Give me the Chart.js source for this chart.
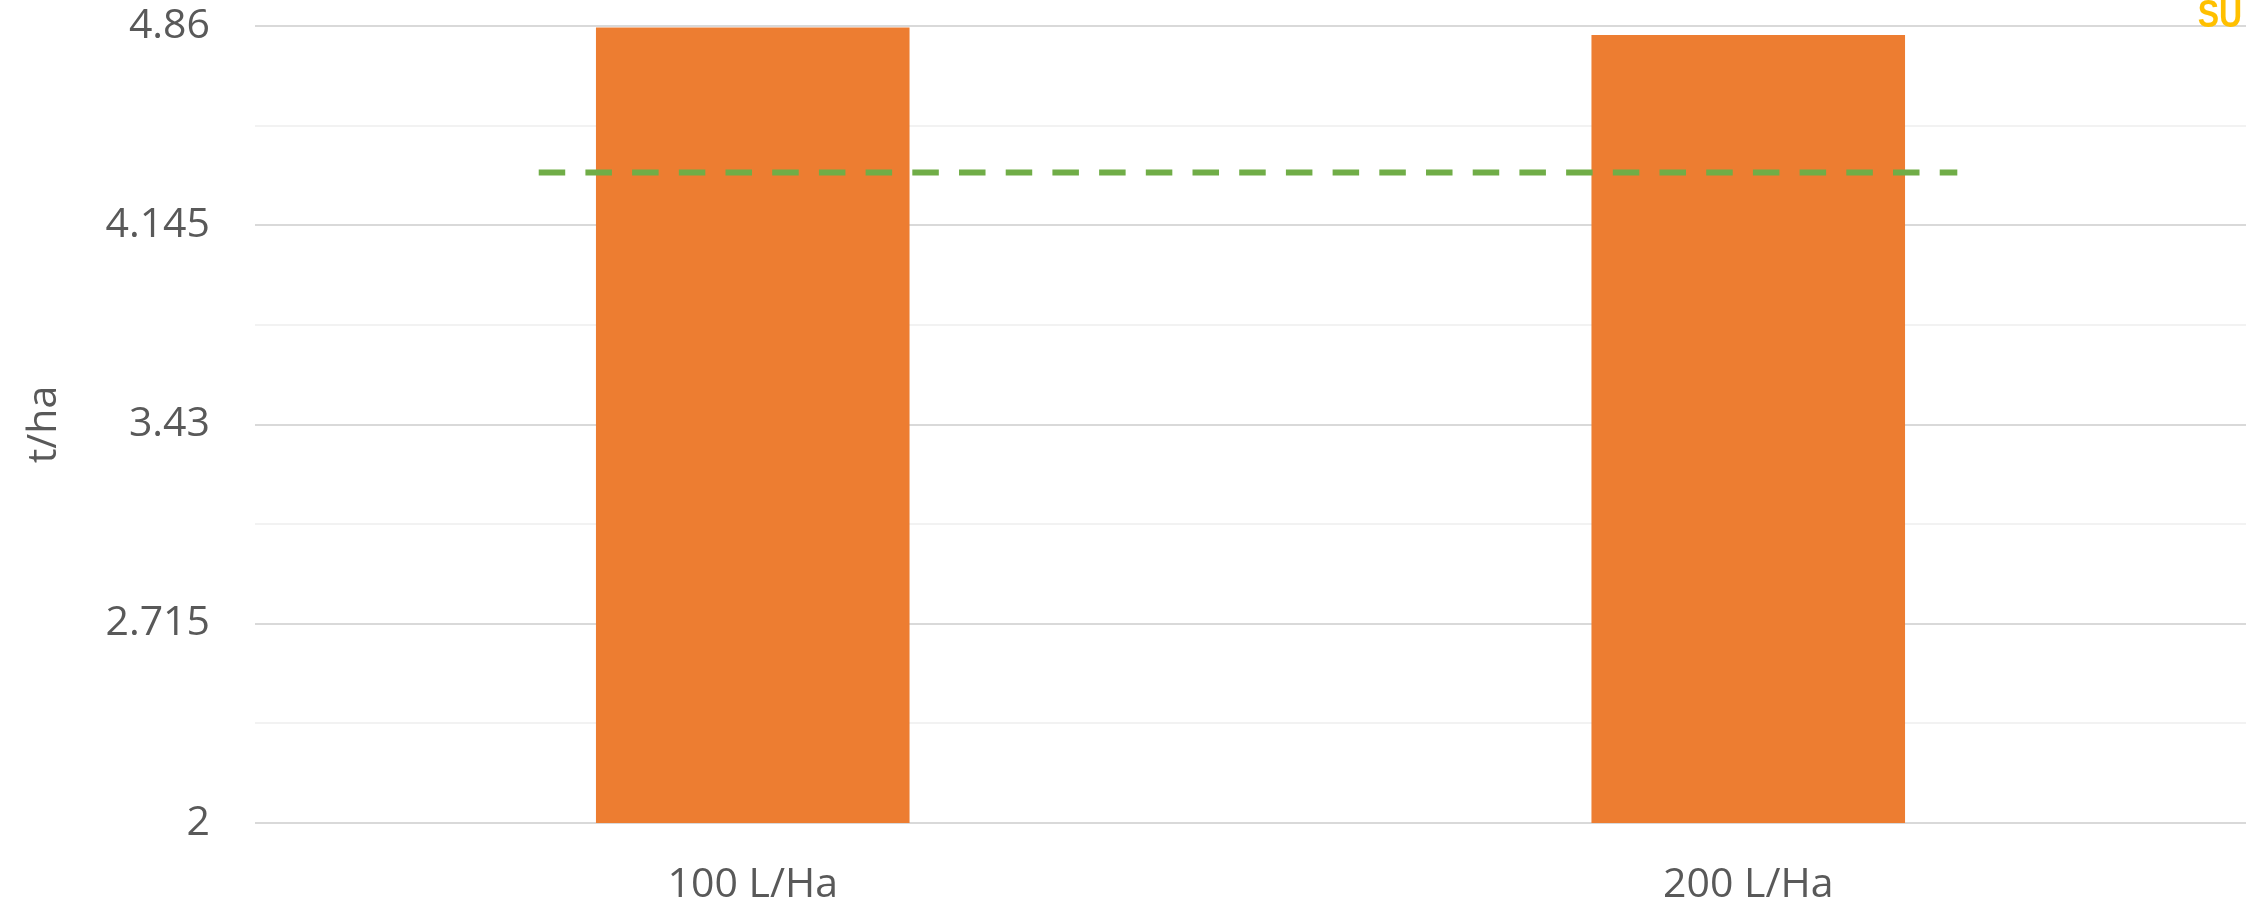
<!DOCTYPE html>
<html>
<head>
<meta charset="utf-8">
<title>t/ha</title>
<script src="https://cdn.jsdelivr.net/npm/chart.js@4/dist/chart.umd.min.js"></script>
<style>
  html, body { margin: 0; padding: 0; background: #ffffff; overflow: hidden; }
  #wrap { position: relative; width: 2246px; height: 906px; }
  #chart { display: block; }
  #tag {
    position: absolute; right: 4px; top: -6px;
    font-family: 'Liberation Sans', Arial, sans-serif; font-weight: bold;
    font-size: 39px; line-height: 39px; color: #FFC000;
    transform: scaleX(0.82); transform-origin: right top; white-space: nowrap;
  }
</style>
</head>
<body>
<div id="wrap">
  <canvas id="chart" width="2246" height="906"></canvas>
  <div id="tag">SU</div>
</div>
<script>
// Application rates and yields
const categories = ['100 L/Ha', '200 L/Ha'];
const yieldValues = [4.855, 4.828];

// Reference level (dashed line) and its horizontal extent in category-index units
const referenceValue = 4.334;
const referenceSpan = [-0.215, 1.21];

// Labelled y ticks; unlabelled minor lines sit halfway between them
const yTickValues = [2, 2.715, 3.43, 4.145, 4.86];
const yTickLabels = ['2', '2.715', '3.43', '4.145', '4.86'];

const FONT = "'Open Sans', 'Noto Sans', sans-serif";
const TEXT = '#595959';

const allTicks = [];
yTickValues.forEach((v, i) => {
  allTicks.push(v);
  if (i < yTickValues.length - 1) allTicks.push((v + yTickValues[i + 1]) / 2);
});

new Chart(document.getElementById('chart'), {
  type: 'bar',
  data: {
    labels: categories,
    datasets: [
      {
        type: 'bar',
        label: 't/ha',
        data: yieldValues,
        backgroundColor: '#ED7D31',
        borderWidth: 0,
        grouped: false,
        barPercentage: 0.315,
        categoryPercentage: 1.0,
        xAxisID: 'x',
        order: 2
      },
      {
        type: 'line',
        label: 'reference',
        data: referenceSpan.map(x => ({ x: x, y: referenceValue })),
        borderColor: '#70AD47',
        borderWidth: 6,
        borderDash: [26.5, 20.2],
        borderCapStyle: 'butt',
        pointRadius: 0,
        fill: false,
        xAxisID: 'x2',
        order: 1
      }
    ]
  },
  options: {
    responsive: false,
    animation: false,
    devicePixelRatio: 1,
    layout: { padding: { top: 26, right: 0, bottom: 0, left: 0 } },
    plugins: { legend: { display: false }, tooltip: { enabled: false } },
    scales: {
      x: {
        type: 'category',
        offset: true,
        grid: { display: false },
        border: { display: false },
        ticks: {
          color: TEXT,
          font: { family: FONT, size: 41 },
          padding: 30,
          maxRotation: 0
        },
        afterFit: s => { s.height = 83; s.paddingLeft = 0; s.paddingRight = 0; }
      },
      x2: {
        type: 'linear',
        display: false,
        offset: false,
        grid: { offset: false },
        min: -0.5,
        max: 1.5
      },
      y: {
        type: 'linear',
        min: yTickValues[0],
        max: yTickValues[yTickValues.length - 1],
        border: { display: false },
        grid: {
          drawTicks: false,
          lineWidth: 2,
          color: ctx => (ctx.index % 2 === 0 ? '#D9D9D9' : '#F2F2F2')
        },
        afterBuildTicks: s => { s.ticks = allTicks.map(v => ({ value: v })); },
        ticks: {
          autoSkip: false,
          color: TEXT,
          font: { family: FONT, size: 41 },
          padding: 45,
          callback: (value, index) => (index % 2 === 0 ? yTickLabels[index / 2] : '')
        },
        title: {
          display: true,
          text: 't/ha',
          color: TEXT,
          font: { family: FONT, size: 41 },
          padding: { top: 20, bottom: 0 }
        },
        afterFit: s => { s.width = 255; s.paddingTop = 0; s.paddingBottom = 0; }
      }
    }
  }
});
</script>
</body>
</html>
